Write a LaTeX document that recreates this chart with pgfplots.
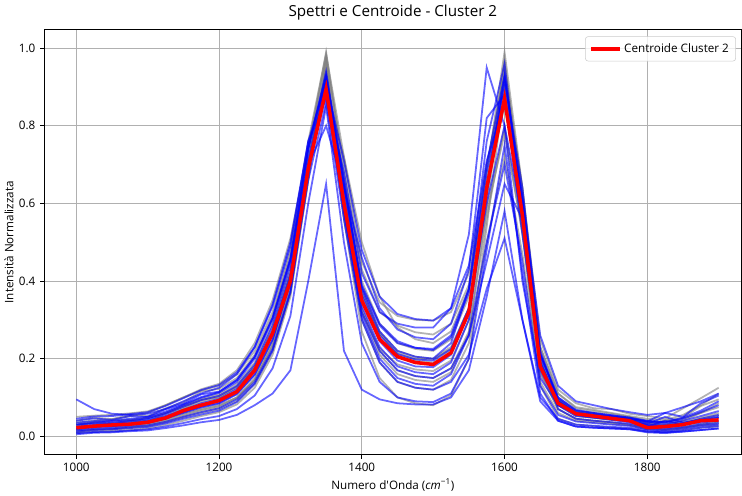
\documentclass[border=0pt]{standalone}
\usepackage{fontspec}
\setmainfont{Open Sans}
\newfontfamily\plainfont{Open Sans}
\usepackage{pgfplots}
\usepackage{pgfplotstable}
\pgfplotsset{compat=1.18}

\definecolor{gridgray}{HTML}{B0B0B0}
\definecolor{mplgray}{HTML}{808080}
\definecolor{legedge}{HTML}{CCCCCC}

% one row per spectrum, transposed below into columns
\pgfplotstableread{
name 1000 1025 1050 1075 1100 1125 1150 1175 1200 1225 1250 1275 1300 1325 1350 1375 1400 1425 1450 1475 1500 1525 1550 1575 1600 1625 1650 1675 1700 1725 1750 1775 1800 1825 1850 1875 1900
g1 0.030 0.036 0.034 0.041 0.046 0.060 0.078 0.096 0.108 0.135 0.190 0.290 0.450 0.740 0.990 0.680 0.400 0.290 0.240 0.225 0.220 0.250 0.360 0.680 0.990 0.640 0.210 0.095 0.065 0.058 0.052 0.046 0.035 0.030 0.040 0.060 0.085
g2 0.040 0.048 0.044 0.055 0.052 0.072 0.088 0.115 0.122 0.150 0.210 0.310 0.470 0.750 0.970 0.700 0.430 0.320 0.285 0.268 0.262 0.290 0.390 0.690 0.950 0.640 0.230 0.110 0.075 0.068 0.060 0.052 0.045 0.042 0.055 0.080 0.110
g3 0.015 0.019 0.020 0.025 0.030 0.040 0.055 0.068 0.078 0.100 0.150 0.240 0.390 0.690 0.950 0.600 0.330 0.220 0.170 0.155 0.150 0.175 0.270 0.560 0.800 0.520 0.160 0.070 0.045 0.040 0.036 0.030 0.020 0.018 0.022 0.030 0.035
g4 0.025 0.029 0.030 0.036 0.040 0.052 0.070 0.088 0.100 0.125 0.180 0.275 0.420 0.710 0.930 0.640 0.370 0.265 0.215 0.200 0.198 0.225 0.330 0.630 0.880 0.590 0.190 0.090 0.062 0.055 0.050 0.044 0.030 0.026 0.032 0.045 0.055
g5 0.050 0.053 0.055 0.059 0.064 0.080 0.100 0.118 0.130 0.160 0.220 0.320 0.480 0.760 0.985 0.720 0.450 0.345 0.310 0.300 0.298 0.320 0.420 0.700 0.920 0.640 0.250 0.120 0.085 0.072 0.070 0.058 0.052 0.046 0.072 0.098 0.125
g6 0.010 0.015 0.016 0.021 0.025 0.035 0.048 0.060 0.070 0.090 0.135 0.220 0.370 0.670 0.910 0.560 0.300 0.190 0.140 0.125 0.120 0.145 0.240 0.500 0.720 0.470 0.140 0.060 0.040 0.036 0.032 0.028 0.018 0.015 0.020 0.028 0.030
g7 0.020 0.025 0.026 0.029 0.033 0.044 0.058 0.070 0.080 0.100 0.145 0.230 0.370 0.660 0.960 0.590 0.320 0.225 0.185 0.172 0.168 0.195 0.300 0.620 0.970 0.600 0.180 0.080 0.052 0.047 0.042 0.038 0.025 0.022 0.030 0.042 0.050
g8 0.035 0.041 0.044 0.051 0.060 0.080 0.100 0.121 0.135 0.170 0.240 0.350 0.510 0.740 0.880 0.720 0.500 0.360 0.280 0.250 0.240 0.270 0.380 0.660 0.850 0.600 0.230 0.110 0.072 0.065 0.058 0.050 0.040 0.036 0.045 0.060 0.075
g9 0.028 0.034 0.030 0.040 0.038 0.058 0.072 0.094 0.100 0.128 0.180 0.275 0.430 0.720 0.980 0.660 0.380 0.270 0.220 0.205 0.200 0.230 0.330 0.580 0.780 0.530 0.190 0.090 0.060 0.054 0.048 0.042 0.032 0.030 0.036 0.048 0.060
g10 0.012 0.017 0.018 0.023 0.028 0.039 0.052 0.065 0.075 0.098 0.145 0.235 0.385 0.680 0.940 0.600 0.320 0.210 0.160 0.145 0.140 0.165 0.265 0.590 0.930 0.580 0.165 0.070 0.045 0.040 0.035 0.030 0.020 0.017 0.024 0.032 0.038
g11 0.008 0.011 0.012 0.016 0.020 0.029 0.040 0.052 0.062 0.082 0.125 0.210 0.360 0.660 0.970 0.560 0.270 0.150 0.100 0.085 0.080 0.105 0.200 0.540 0.900 0.530 0.130 0.045 0.030 0.026 0.022 0.020 0.012 0.010 0.015 0.022 0.025
g12 0.030 0.037 0.040 0.043 0.048 0.060 0.076 0.093 0.104 0.128 0.180 0.270 0.415 0.700 0.920 0.630 0.370 0.265 0.210 0.195 0.190 0.220 0.330 0.650 0.960 0.620 0.200 0.095 0.065 0.060 0.050 0.048 0.034 0.040 0.048 0.078 0.095
b1 0.030 0.033 0.034 0.039 0.044 0.057 0.076 0.093 0.104 0.130 0.185 0.285 0.440 0.740 0.940 0.660 0.380 0.270 0.220 0.205 0.200 0.240 0.380 0.760 0.960 0.560 0.170 0.080 0.058 0.052 0.046 0.040 0.030 0.028 0.034 0.045 0.055
b2 0.005 0.009 0.010 0.013 0.015 0.021 0.028 0.036 0.042 0.055 0.080 0.110 0.170 0.400 0.650 0.220 0.120 0.095 0.085 0.082 0.082 0.100 0.170 0.360 0.580 0.300 0.090 0.040 0.025 0.022 0.020 0.018 0.012 0.010 0.012 0.016 0.020
b3 0.020 0.025 0.026 0.031 0.035 0.047 0.064 0.078 0.090 0.115 0.170 0.265 0.410 0.700 0.900 0.610 0.350 0.245 0.195 0.180 0.178 0.210 0.320 0.640 0.930 0.600 0.180 0.080 0.052 0.048 0.044 0.040 0.028 0.025 0.030 0.040 0.048
b4 0.095 0.070 0.058 0.055 0.058 0.070 0.090 0.110 0.125 0.160 0.230 0.340 0.500 0.760 0.870 0.680 0.420 0.320 0.290 0.280 0.280 0.330 0.520 0.950 0.800 0.400 0.150 0.080 0.060 0.055 0.052 0.044 0.038 0.060 0.050 0.085 0.105
b5 0.012 0.016 0.018 0.021 0.024 0.033 0.045 0.056 0.066 0.088 0.135 0.220 0.370 0.680 0.920 0.580 0.310 0.200 0.150 0.135 0.130 0.160 0.260 0.500 0.700 0.450 0.130 0.055 0.038 0.034 0.030 0.027 0.018 0.016 0.020 0.026 0.030
b6 0.040 0.046 0.042 0.052 0.050 0.070 0.084 0.108 0.115 0.145 0.205 0.305 0.460 0.740 0.930 0.650 0.390 0.290 0.245 0.228 0.222 0.255 0.370 0.680 0.900 0.600 0.210 0.100 0.068 0.060 0.054 0.048 0.040 0.036 0.045 0.062 0.080
b7 0.008 0.011 0.012 0.015 0.018 0.025 0.034 0.044 0.052 0.070 0.105 0.175 0.310 0.600 0.850 0.500 0.240 0.140 0.100 0.090 0.088 0.110 0.200 0.480 0.750 0.420 0.110 0.040 0.025 0.022 0.020 0.018 0.010 0.008 0.012 0.016 0.020
b8 0.045 0.051 0.052 0.057 0.062 0.078 0.098 0.119 0.132 0.165 0.230 0.335 0.490 0.760 0.910 0.710 0.480 0.360 0.315 0.302 0.298 0.330 0.440 0.710 0.860 0.620 0.260 0.130 0.090 0.080 0.070 0.062 0.055 0.060 0.075 0.090 0.110
b9 0.018 0.023 0.024 0.029 0.034 0.045 0.060 0.074 0.084 0.108 0.158 0.248 0.395 0.690 0.890 0.600 0.335 0.230 0.180 0.165 0.160 0.190 0.300 0.620 0.920 0.640 0.220 0.090 0.055 0.048 0.042 0.036 0.025 0.040 0.030 0.035 0.040
b10 0.015 0.019 0.020 0.025 0.028 0.037 0.050 0.062 0.072 0.095 0.140 0.225 0.375 0.660 0.860 0.560 0.300 0.190 0.140 0.125 0.120 0.140 0.210 0.380 0.510 0.300 0.100 0.045 0.030 0.027 0.024 0.022 0.015 0.012 0.016 0.022 0.026
b11 0.035 0.039 0.040 0.045 0.050 0.064 0.082 0.101 0.114 0.145 0.205 0.305 0.455 0.700 0.800 0.640 0.460 0.330 0.275 0.255 0.250 0.290 0.430 0.820 0.880 0.520 0.190 0.090 0.062 0.056 0.050 0.045 0.036 0.032 0.040 0.052 0.065
b12 0.025 0.029 0.032 0.035 0.040 0.052 0.068 0.085 0.096 0.122 0.175 0.270 0.420 0.715 0.920 0.630 0.365 0.260 0.212 0.198 0.195 0.225 0.330 0.600 0.800 0.560 0.210 0.095 0.060 0.054 0.048 0.042 0.032 0.050 0.035 0.042 0.050
b13 0.020 0.025 0.028 0.031 0.036 0.047 0.062 0.076 0.086 0.110 0.160 0.250 0.400 0.690 0.880 0.580 0.320 0.220 0.170 0.155 0.150 0.175 0.260 0.450 0.650 0.560 0.200 0.070 0.045 0.040 0.036 0.032 0.022 0.020 0.024 0.030 0.034
b14 0.030 0.035 0.038 0.041 0.046 0.060 0.080 0.099 0.112 0.140 0.200 0.300 0.455 0.745 0.930 0.650 0.385 0.285 0.240 0.228 0.225 0.260 0.380 0.700 0.930 0.610 0.215 0.100 0.066 0.060 0.054 0.048 0.038 0.036 0.048 0.066 0.090
c 0.022 0.026 0.029 0.031 0.036 0.047 0.066 0.080 0.092 0.115 0.170 0.265 0.400 0.690 0.895 0.600 0.350 0.250 0.205 0.190 0.185 0.215 0.320 0.640 0.870 0.570 0.180 0.085 0.058 0.052 0.046 0.040 0.022 0.025 0.030 0.040 0.042
}\rawspectra
\pgfplotstabletranspose[colnames from=name]\spectra\rawspectra

\begin{document}
\begin{tikzpicture}
\begin{axis}[
    scale only axis,
    width=513.75pt,
    height=312.75pt,
    xmin=955, xmax=1932,
    ymin=-0.047, ymax=1.047,
    xtick={1000,1200,1400,1600,1800},
    ytick={0,0.2,0.4,0.6,0.8,1.0},
    grid=major,
    grid style={line width=0.7pt, gridgray},
    axis line style={line width=0.7pt},
    tick style={black, line width=0.7pt},
    tick align=outside,
    tick pos=left,
    major tick length=3pt,
    /pgf/number format/assume math mode=true,
    tick label style={font=\fontsize{8.6}{10}\selectfont},
    x tick label style={/pgf/number format/1000 sep={}},
    y tick label style={/pgf/number format/.cd, fixed, fixed zerofill, precision=1},
    title={Spettri e Centroide - Cluster 2},
    title style={font=\fontsize{11.2}{13}\selectfont, yshift=-2pt},
    xlabel={Numero d{\plainfont '}Onda (\textit{cm}\textsuperscript{−1})},
    ylabel={Intensità Normalizzata},
    label style={font=\fontsize{8.6}{10}\selectfont},
    xlabel style={yshift=2pt},
    ylabel style={yshift=-3pt},
    legend style={at={(rel axis cs:0.992,0.985)}, anchor=north east,
        font=\fontsize{8.6}{10}\selectfont, draw=legedge, rounded corners=2pt,
        fill=white, fill opacity=0.8, text opacity=1, inner sep=3pt},
    legend image code/.code={\draw[#1] (0pt,0pt) -- (21pt,0pt);},
]
\pgfplotsinvokeforeach{g1,g2,g3,g4,g5,g6,g7,g8,g9,g10,g11,g12}{
  \addplot[mplgray, opacity=0.6, line width=1.3pt, forget plot] table[x=colnames, y=#1] {\spectra};
}
\pgfplotsinvokeforeach{b1,b2,b3,b4,b5,b6,b7,b8,b9,b10,b11,b12,b13,b14}{
  \addplot[blue, opacity=0.6, line width=1.3pt, forget plot] table[x=colnames, y=#1] {\spectra};
}
\addplot[red, line width=2.6pt] table[x=colnames, y=c] {\spectra};
\addlegendentry{Centroide Cluster 2}
\end{axis}
\end{tikzpicture}
\end{document}
